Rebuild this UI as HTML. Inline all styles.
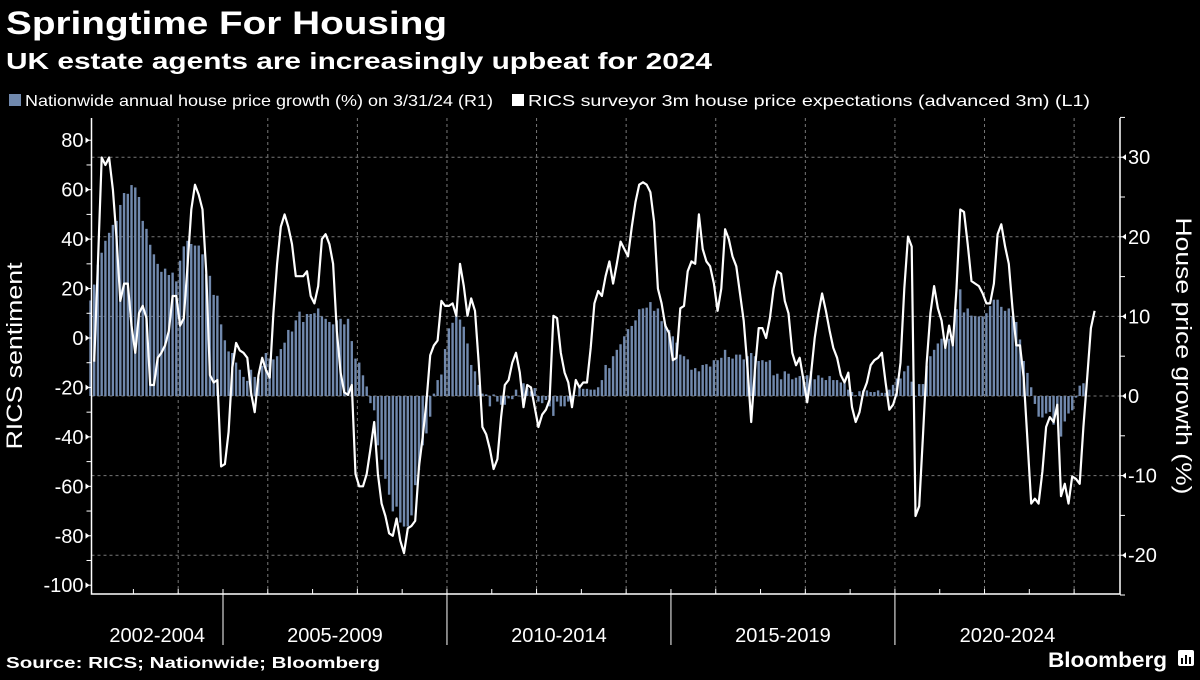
<!DOCTYPE html>
<html><head><meta charset="utf-8"><style>
html,body{margin:0;padding:0;background:#000;}
body{width:1200px;height:675px;overflow:hidden;font-family:"Liberation Sans",sans-serif;}
svg text{font-family:"Liberation Sans",sans-serif;}
</style></head><body>
<svg id="chart" width="1200" height="675" viewBox="0 0 1200 675" xmlns="http://www.w3.org/2000/svg">
<rect x="0" y="0" width="1200" height="675" fill="#000"/>
<text x="6" y="34" fill="#fff" font-size="32" font-weight="bold" textLength="441" lengthAdjust="spacingAndGlyphs">Springtime For Housing</text>
<text x="6" y="69" fill="#fff" font-size="23" font-weight="bold" textLength="706" lengthAdjust="spacingAndGlyphs">UK estate agents are increasingly upbeat for 2024</text>
<g>
<rect x="9" y="94" width="12" height="12" fill="#7189ad"/>
<text x="25" y="106" fill="#fff" font-size="16" textLength="468" lengthAdjust="spacingAndGlyphs">Nationwide annual house price growth (%) on 3/31/24 (R1)</text>
<rect x="512" y="94" width="12" height="12" fill="#fff"/>
<text x="528" y="106" fill="#fff" font-size="16" textLength="562" lengthAdjust="spacingAndGlyphs">RICS surveyor 3m house price expectations (advanced 3m) (L1)</text>
</g>
<g id="grid"></g>
<g id="bars"></g>
<g id="line"></g>
<g id="axes"></g>
<text transform="translate(22,356) rotate(-90)" text-anchor="middle" fill="#fff" font-size="22" textLength="187" lengthAdjust="spacingAndGlyphs">RICS sentiment</text>
<text transform="translate(1176,356) rotate(90)" text-anchor="middle" fill="#fff" font-size="22" textLength="277" lengthAdjust="spacingAndGlyphs">House price growth (%)</text>
<text x="6" y="668" fill="#fff" font-size="16" font-weight="bold" textLength="374" lengthAdjust="spacingAndGlyphs">Source: RICS; Nationwide; Bloomberg</text>
<text x="1048" y="667" fill="#fff" font-size="21" font-weight="bold" textLength="119" lengthAdjust="spacingAndGlyphs">Bloomberg</text>
<g>
<rect x="1178" y="650" width="16" height="16" rx="2" fill="#fff"/>
<rect x="1181" y="658" width="2" height="6" fill="#000"/><rect x="1185" y="655" width="2" height="9" fill="#000"/><rect x="1189" y="657" width="2" height="7" fill="#000"/>
</g>
</svg>
<script>
// Nationwide annual house price growth (%), monthly Jan 2002 - Mar 2024 (right axis)
const barValues = [
12,14,16.5,18,19.5,20.5,21.5,22,24,25.5,25.4,26.5,
26.2,25,22,21,19,17.8,16.6,15.6,16,15.2,15.5,14.4,
17,18.8,19.5,19.1,18.9,18.9,17.8,15.3,15.1,12.7,12.6,9,
7,5.6,5.4,4.2,3.3,2.4,1.9,3.3,2.4,2.2,3.8,5.4,
4.7,4.6,5,5.9,6.7,8.3,8.1,9.5,10.6,9.3,10.3,10.3,
10.4,11,10,9.7,9.3,9,9.5,9.7,9,9.7,6.9,4.7,
4.2,2.6,1.2,-0.9,-1.8,-6.2,-8,-10.4,-12.4,-14.5,-13.9,-15.9,
-16.4,-16.4,-15,-11.2,-9.3,-6.2,-4.7,-2.6,0.3,2,2.7,5.9,
8.5,9.2,10,9.6,8.7,6.6,3.9,3.1,1.4,0.3,0.2,-1.3,
0.2,-0.7,-1.1,-1.1,-0.3,-0.4,0.8,0,1.6,1,0.6,1,
-0.7,-0.9,-0.5,-1.3,-2.5,-0.7,-1.3,-1.3,-0.7,-0.9,0.1,1,
0.9,0.9,0.8,0.8,1.1,2,3.9,3.5,5,5.8,6.5,7.5,
8.4,8.8,9.5,10.9,11,11.1,11.8,10.7,11,9.4,9,8.3,
7.5,6.7,5.2,5,4.6,3.3,3.5,3.1,3.9,4,3.7,4.5,
4.5,4.8,5.8,4.9,4.7,5.2,5.2,4.6,5,5.4,5,4.4,
4.5,4.3,4.5,2.6,2.8,2.1,3.1,2.8,2.1,2.3,2.5,2.5,
2.6,3.1,2.1,2.6,2.3,2,2.5,2,2,1.7,1.6,0.8,
0.5,0.1,0.6,0.7,0.7,0.5,0.5,0.7,0.4,0.4,0.8,1.4,
2.2,2.2,3.1,3.8,1.8,-0.1,1.5,1.5,3.8,5,5.8,6.6,
7.2,6.8,7.2,7.2,10.9,13.4,10.5,11,10.1,10,10,10,
10.4,11.3,12.1,12.1,11.2,10.7,11,10,9.3,7.1,4.4,2.9,
1.1,-1,-2.6,-2.7,-2.2,-2,-3.6,-2.4,-5.1,-3.2,-2.2,-1.8,
-0.2,1.3,1.6
];
// RICS 3m price expectations advanced 3m, monthly Feb 2002 - Jun 2024 (left axis)
const lineStartMonth = 1;
const lineValues = [
-9.6,30,73,70,73,60,40,15,22,22,5,-6,10,13,8,-19,-19,-8,-6,-3,3,17,17,5,8,29,52,62,58,52,27,-15,-18,-17,-52,-51,-38,-12,-2,-5,-6,-8,-22,-30,-15,-8,-13,-16,10,30,45,50,45,38,25,25,25,27,17,14,21,40,42,38,30,3,-14,-22,
-23,-19,-55,-60,-60,-55,-45,-34,-55,-67,-72,-79,-80,-73,-82,-87,-77,-76,-74,-52,-40,-26,-7,-3,-1,15,13,13,14,9,30,21,9,16,11,-10,-36,-39,-45,-53,-49,-32,-19,-17,-10,-6,-14,-28,-19,-20,-28,-36,-31,-29,-25,9,8,-6,-14,-18,-28,-17,-20,-18,-18,-4,14,19,
17,25,31,22,30,39,36,33,45,55,62,63,62,59,47,20,14,5,2,-9,-8,12,13,27,31,30,50,36,31,29,22,11,20,44,40,33,29,18,7,-12,-34,-13,4,4,0,8,20,27,26,15,10,-6,-11,-8,-17,-26,-15,0,10,18,11,3,-4,-8,-15,-18,-14,
-28,-34,-30,-22,-18,-11,-9,-8,-6,-18,-29,-27,-22,-10,20,41,37,-72,-68,-40,-10,10,21,12,7,-4,5,-3,20,52,51,38,23,22,21,18,14,14,22,42,46,37,30,12,-3,-3,-16,-41,-67,-65,-67,-54,-36,-32,-34,-27,-64,-59,-67,-56,-57,-59,-36,-16,4,11
];
const leftTicks = [80,60,40,20,0,-20,-40,-60,-80,-100];
const rightTicks = [30,20,10,0,-10,-20];
const periodLabels = ["2002-2004","2005-2009","2010-2014","2015-2019","2020-2024"];
const periodStartYears = [2002,2005,2010,2015,2020];

const NS = "http://www.w3.org/2000/svg";
const plotL = 91.5, plotR = 1120, plotT = 118, plotB = 594;
const x0 = 88.6, monthW = 3.733;
function xMonth(i){ return x0 + (i + 0.5) * monthW; }
function xYear(y){ return x0 + (y - 2002) * 12 * monthW; }
function yLeft(v){ return 338 - v * 2.472; }
function yRight(v){ return 396 - v * 7.96; }
function mk(tag, attrs, parent){
  const e = document.createElementNS(NS, tag);
  for (const k in attrs) e.setAttribute(k, attrs[k]);
  parent.appendChild(e); return e;
}
const grid = document.getElementById('grid');
const axes = document.getElementById('axes');
rightTicks.forEach(t => {
  const l = mk('line', {x1: plotL, x2: plotR, y1: yRight(t), y2: yRight(t), stroke: '#777', 'stroke-width': 1, 'stroke-dasharray': '3,3'}, grid);
  
  
});
for (let y = 2004; y <= 2024; y += 2) {
  const l = mk('line', {x1: xYear(y), x2: xYear(y), y1: plotT, y2: plotB, stroke: '#777', 'stroke-width': 1, 'stroke-dasharray': '3,3'}, grid);
  
  
}
const bars = document.getElementById('bars');
barValues.forEach((v, i) => {
  const y0 = yRight(0), y1 = yRight(v);
  const r = mk('rect', {x: xMonth(i) - 1.2, y: Math.min(y0, y1), width: 2.4, height: Math.max(0.5, Math.abs(y1 - y0)), fill: '#7189ad'}, bars);
  
  
});
const pts = lineValues.map((v, i) => xMonth(i + lineStartMonth).toFixed(1) + ',' + yLeft(v).toFixed(1)).join(' ');
const pl = mk('polyline', {points: pts, fill: 'none', stroke: '#fff', 'stroke-width': 2.2, 'stroke-linejoin': 'round'}, document.getElementById('line'));


const ax = mk('path', {d: `M${plotL},${plotT} V${plotB} H${plotR} V${plotT}`, fill: 'none', stroke: '#fff', 'stroke-width': 1.5}, axes);


for (let v = -100; v <= 80; v += 10) {
  mk('line', {x1: plotL - 5, x2: plotL, y1: yLeft(v), y2: yLeft(v), stroke: '#fff', 'stroke-width': 1}, axes);
}
leftTicks.forEach(t => {
  mk('path', {d: `M${plotL-2},${yLeft(t)} l-4,-3 v6 z`, fill: '#fff'}, axes);
  const tx = mk('text', {x: plotL - 8, y: yLeft(t) + 7, fill: '#fff', 'font-size': 20, 'text-anchor': 'end'}, axes);
  tx.textContent = t;
  
  
});
for (let v = -25; v <= 35; v += 5) {
  mk('line', {x1: plotR, x2: plotR + 5, y1: yRight(v), y2: yRight(v), stroke: '#fff', 'stroke-width': 1}, axes);
}
rightTicks.forEach(t => {
  mk('path', {d: `M${plotR+2},${yRight(t)} l4,-3 v6 z`, fill: '#fff'}, axes);
  const tx = mk('text', {x: plotR + 8, y: yRight(t) + 7, fill: '#fff', 'font-size': 20, 'text-anchor': 'start'}, axes);
  tx.textContent = t;
  
  
});
for (let y = 2003; y <= 2024; y++) {
  mk('line', {x1: xYear(y), x2: xYear(y), y1: plotB - 5, y2: plotB, stroke: '#fff', 'stroke-width': 1}, axes);
}
periodStartYears.forEach((y, i) => {
  if (i > 0) mk('line', {x1: xYear(y), x2: xYear(y), y1: plotB, y2: 645, stroke: '#fff', 'stroke-width': 1}, axes);
  const endX = i < periodStartYears.length - 1 ? xYear(periodStartYears[i + 1]) : plotR;
  const startX = i === 0 ? plotL : xYear(y);
  const tx = mk('text', {x: (startX + endX) / 2, y: 642, fill: '#fff', 'font-size': 20, 'text-anchor': 'middle'}, axes);
  tx.textContent = periodLabels[i];
  
  
});
</script>
</body></html>
